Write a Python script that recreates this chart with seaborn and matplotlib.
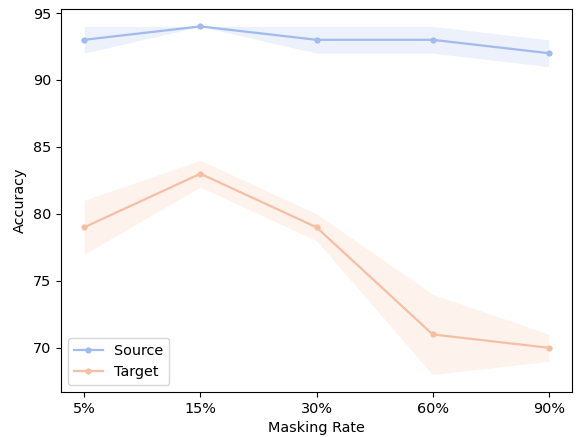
import numpy as np
import pandas as pd
import seaborn as sns
import matplotlib.pyplot as plt

plt.rcParams["font.size"] = 10.4

# data
rates = ["5%", "15%", "30%", "60%", "90%"]
source_acc = [93, 94, 93, 93, 92]
source_low = [92, 94, 92, 92, 91]
source_high = [94, 94, 94, 94, 93]
target_acc = [79, 83, 79, 71, 70]
target_low = [77, 82, 78, 68, 69]
target_high = [81, 84, 80, 74, 71]

colors = {"Source": "#a1bbed", "Target": "#f6bfa4"}

x = np.arange(len(rates))
df = pd.DataFrame({
    "pos": np.concatenate([x, x]),
    "acc": source_acc + target_acc,
    "domain": ["Source"] * len(rates) + ["Target"] * len(rates),
})

fig, ax = plt.subplots(figsize=(5.77, 4.37), dpi=100)
sns.lineplot(data=df, x="pos", y="acc", hue="domain", palette=colors,
             marker="o", markersize=4.5, markeredgewidth=0, linewidth=1.6, ax=ax)
ax.fill_between(x, source_low, source_high, color=colors["Source"], alpha=0.2, linewidth=0)
ax.fill_between(x, target_low, target_high, color=colors["Target"], alpha=0.2, linewidth=0)

ax.set_xticks(x)
ax.set_xticklabels(rates)
ax.set_xlabel("Masking Rate")
ax.set_ylabel("Accuracy")
ax.legend(loc="lower left")

fig.subplots_adjust(left=61/577, right=572/577, top=1 - 9/437, bottom=1 - 392/437)
plt.savefig("out.png", dpi=100)
